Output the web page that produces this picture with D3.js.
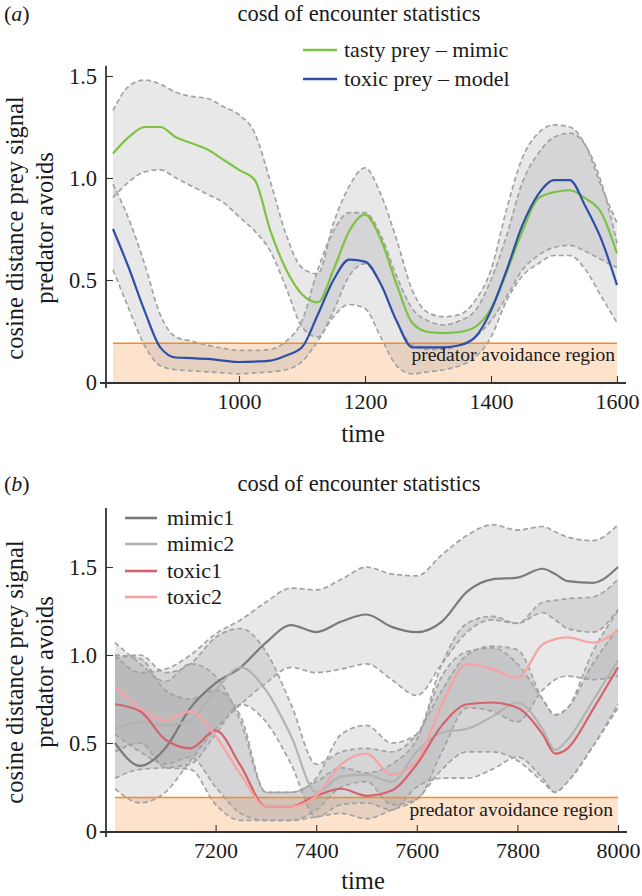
<!DOCTYPE html>
<html><head><meta charset="utf-8">
<script src="https://cdn.jsdelivr.net/npm/d3@7"></script>
<style>
html,body{margin:0;padding:0;background:#fff;}
svg text{font-family:"Liberation Serif","Times New Roman",serif;fill:#1a1a1a;}
</style></head>
<body><svg id="c" width="642" height="896"></svg>
<script>
// ---------- Panel (a) data ----------
const timeA = [800,825,850,875,900,925,950,975,1000,1025,1050,1075,1100,1125,1150,1175,1200,1225,1250,1275,1300,1325,1350,1375,1400,1425,1450,1475,1500,1525,1550,1575,1600];
const mimicA   = [1.12,1.20,1.25,1.25,1.20,1.17,1.14,1.09,1.04,0.99,0.74,0.55,0.43,0.39,0.55,0.74,0.82,0.70,0.48,0.29,0.245,0.24,0.245,0.27,0.36,0.54,0.74,0.90,0.93,0.94,0.90,0.83,0.63];
const mimicAHi = [1.33,1.45,1.48,1.46,1.42,1.40,1.39,1.35,1.31,1.22,0.98,0.72,0.56,0.53,0.78,0.96,1.05,0.92,0.70,0.45,0.34,0.32,0.33,0.40,0.55,0.85,1.10,1.22,1.26,1.25,1.16,0.96,0.78];
const mimicALo = [0.905,0.98,1.03,1.04,1.00,0.96,0.92,0.88,0.81,0.74,0.64,0.46,0.27,0.22,0.35,0.52,0.58,0.48,0.30,0.18,0.16,0.16,0.18,0.22,0.30,0.42,0.55,0.62,0.66,0.67,0.64,0.60,0.56];
const modelA   = [0.75,0.56,0.35,0.17,0.12,0.117,0.113,0.105,0.098,0.10,0.105,0.13,0.17,0.33,0.50,0.60,0.59,0.48,0.30,0.17,0.17,0.17,0.18,0.22,0.35,0.55,0.77,0.92,0.99,0.99,0.86,0.70,0.475];
const modelAHi = [0.97,0.80,0.58,0.33,0.22,0.20,0.18,0.165,0.155,0.155,0.16,0.20,0.30,0.55,0.74,0.83,0.83,0.72,0.52,0.36,0.30,0.28,0.30,0.35,0.50,0.72,0.98,1.12,1.20,1.22,1.16,0.98,0.68];
const modelALo = [0.55,0.36,0.18,0.08,0.06,0.055,0.05,0.045,0.04,0.045,0.05,0.06,0.10,0.20,0.32,0.38,0.36,0.22,0.08,0.04,0.05,0.06,0.08,0.12,0.22,0.40,0.52,0.58,0.62,0.62,0.55,0.42,0.29];
const legendA = ["tasty prey \u2013 mimic","toxic prey \u2013 model"];
const ticksAX = [1000,1200,1400,1600];

// ---------- Panel (b) data ----------
const timeB = [7000,7050,7100,7150,7200,7250,7300,7350,7400,7450,7500,7550,7600,7650,7700,7750,7800,7850,7875,7900,7950,8000];
const mimic1   = [0.50,0.37,0.47,0.70,0.84,0.93,1.07,1.17,1.13,1.19,1.23,1.16,1.13,1.19,1.36,1.43,1.44,1.49,1.46,1.42,1.41,1.50];
const mimic1Hi = [1.00,0.90,0.92,1.00,1.12,1.20,1.30,1.38,1.37,1.43,1.50,1.46,1.45,1.57,1.68,1.74,1.71,1.73,1.70,1.67,1.65,1.74];
const mimic1Lo = [0.24,0.16,0.22,0.40,0.58,0.72,0.84,0.93,0.90,0.92,0.95,0.86,0.77,0.95,1.13,1.20,1.18,1.24,1.20,1.15,1.13,1.26];
const mimic2   = [0.58,0.62,0.60,0.63,0.80,0.93,0.80,0.54,0.22,0.31,0.32,0.28,0.45,0.56,0.58,0.65,0.73,0.58,0.46,0.52,0.74,0.97];
const mimic2Hi = [0.98,1.00,0.90,0.95,1.10,1.15,1.02,0.72,0.38,0.45,0.47,0.45,0.55,0.80,1.00,1.05,1.03,0.75,0.66,0.70,1.02,1.25];
const mimic2Lo = [0.30,0.35,0.36,0.38,0.55,0.72,0.62,0.38,0.08,0.15,0.16,0.12,0.25,0.30,0.30,0.35,0.42,0.30,0.22,0.28,0.48,0.70];
const toxic1   = [0.72,0.68,0.52,0.47,0.57,0.37,0.14,0.14,0.20,0.24,0.20,0.23,0.38,0.60,0.72,0.73,0.70,0.55,0.44,0.47,0.69,0.93];
const toxic1Hi = [1.00,0.98,0.80,0.75,0.80,0.65,0.22,0.22,0.28,0.36,0.33,0.38,0.52,0.88,1.02,1.04,0.95,0.75,0.66,0.70,0.95,1.15];
const toxic1Lo = [0.45,0.50,0.36,0.35,0.15,0.06,0.06,0.06,0.08,0.10,0.07,0.12,0.18,0.35,0.45,0.45,0.40,0.28,0.22,0.28,0.48,0.72];
const toxic2   = [0.82,0.70,0.63,0.68,0.54,0.32,0.14,0.14,0.20,0.38,0.44,0.32,0.40,0.72,0.95,0.92,0.87,1.06,1.09,1.10,1.07,1.14];
const toxic2Hi = [1.07,0.95,0.85,0.95,0.88,0.62,0.22,0.22,0.30,0.55,0.60,0.50,0.55,0.95,1.18,1.22,1.18,1.30,1.31,1.32,1.33,1.43];
const toxic2Lo = [0.55,0.45,0.38,0.42,0.25,0.10,0.06,0.06,0.12,0.25,0.28,0.15,0.18,0.45,0.70,0.68,0.62,0.80,0.86,0.88,0.86,0.88];
const legendB = ["mimic1","mimic2","toxic1","toxic2"];
const ticksBX = [7200,7400,7600,7800,8000];

const ticksY = [0,0.5,1.0,1.5];
const tickLabelsY = ["0","0.5","1.0","1.5"];
const avoidLevel = 0.19;

const title = "cosd of encounter statistics";
const yLab1 = "cosine distance prey signal", yLab2 = "predator avoids";

const svg = d3.select("#c");

function panel(o){
  const g = svg.append("g");
  const x = d3.scaleLinear().domain(o.xDom).range(o.xRange);
  const y = d3.scaleLinear().domain(o.yDom).range(o.yRange);
  const t = o.time;
  // avoidance region
  g.append("rect").attr("x", x(o.xDom[0])).attr("width", x(o.xDom[1]) - x(o.xDom[0]))
    .attr("y", y(avoidLevel)).attr("height", y(0) - y(avoidLevel))
    .attr("fill", "#fde3cc");
  // bands
  const area = d3.area().x((d,i)=>x(t[i])).y0(d=>y(d[0])).y1(d=>y(d[1])).curve(d3.curveMonotoneX);
  const line = d3.line().x((d,i)=>x(t[i])).y(d=>y(d)).curve(d3.curveMonotoneX);
  o.series.forEach(s=>{
    g.append("path").datum(s.lo.map((v,i)=>[v, s.hi[i]])).attr("d", area)
      .attr("fill", "#8c8e90").attr("fill-opacity", 0.2);
  });
  o.series.forEach(s=>{
    [s.lo, s.hi].forEach(arr=>{
      g.append("path").datum(arr).attr("d", line).attr("fill","none")
        .attr("stroke","#a3a3a3").attr("stroke-width",1.7).attr("stroke-dasharray","5,3");
    });
  });
  // avoidance line
  g.append("line").attr("x1", x(o.xDom[0])).attr("x2", x(o.xDom[1]))
    .attr("y1", y(avoidLevel)).attr("y2", y(avoidLevel))
    .attr("stroke", "#f58a2a").attr("stroke-width", 1.6);
  // means
  o.series.forEach(s=>{
    g.append("path").datum(s.mean).attr("d", line).attr("fill","none")
      .attr("stroke", s.color).attr("stroke-width", 2.2).attr("stroke-linejoin","round");
  });
  g.append("text").attr("x", o.regionX).attr("y", o.regionY).attr("text-anchor","end")
    .attr("font-size", 19.5).text("predator avoidance region");

  // axes
  const axCol = "#333";
  const minorX = d3.range(o.xDom[0], o.xDom[1] + 1, 50);
  const minorY = d3.range(0, o.yDom[1] + 0.0001, 0.1).map(v=>+v.toFixed(2));
  const gx = g.append("g").attr("transform", `translate(0,${y(0)+1})`);
  gx.call(d3.axisBottom(x).tickValues(minorX).tickSize(-3.5).tickFormat(""));
  gx.call(d3.axisBottom(x).tickValues(o.ticksX).tickSize(-7).tickPadding(10).tickFormat(d3.format("d")));
  gx.selectAll(".domain").remove();
  gx.selectAll("line").attr("stroke", axCol).attr("stroke-width", 1.1);
  gx.selectAll("text").attr("font-size", 22).attr("font-family", '"Liberation Serif","Times New Roman",serif').attr("fill","#1a1a1a");
  g.append("line").attr("x1", o.axisX - 6).attr("x2", x(o.xDom[1]) + 9)
    .attr("y1", y(0)+1).attr("y2", y(0)+1).attr("stroke", axCol).attr("stroke-width", 1.8);

  const gy = g.append("g").attr("transform", `translate(${o.axisX},0)`);
  gy.call(d3.axisLeft(y).tickValues(minorY).tickSize(-3.5).tickFormat(""));
  gy.call(d3.axisLeft(y).tickValues(ticksY).tickSize(-7).tickPadding(9).tickFormat((d,i)=>tickLabelsY[i]));
  gy.selectAll(".domain").remove();
  gy.selectAll("line").attr("stroke", axCol).attr("stroke-width", 1.1);
  gy.selectAll("text").attr("font-size", 22.5).attr("font-family", '"Liberation Serif","Times New Roman",serif').attr("fill","#1a1a1a");
  g.append("line").attr("x1", o.axisX).attr("x2", o.axisX)
    .attr("y1", y(0)+6).attr("y2", y(o.yDom[1]))
    .attr("stroke", axCol).attr("stroke-width", 1.8);

  // labels
  g.append("text").attr("x", 4).attr("y", o.top + 21).attr("font-size", 22)
    .html(`(<tspan font-style="italic">${o.tag}</tspan>)`);
  g.append("text").attr("x", 359).attr("y", o.top + 21).attr("text-anchor","middle")
    .attr("font-size", 22.5).text(title);
  g.append("text").attr("transform", `translate(23,${o.yLabC}) rotate(-90)`).attr("text-anchor","middle")
    .attr("font-size", 24.5).text(yLab1);
  g.append("text").attr("transform", `translate(53,${o.yLabC}) rotate(-90)`).attr("text-anchor","middle")
    .attr("font-size", 24.5).text(yLab2);
  g.append("text").attr("x", 363).attr("y", o.timeY).attr("text-anchor","middle")
    .attr("font-size", 24.5).text("time");

  // legend
  o.legend.forEach((name,i)=>{
    const ly = o.legY[i];
    g.append("line").attr("x1", o.legX[0]).attr("x2", o.legX[1]).attr("y1", ly).attr("y2", ly)
      .attr("stroke", o.series[i].color).attr("stroke-width", 2.6);
    g.append("text").attr("x", o.legX[2]).attr("y", ly + 7).attr("font-size", 22).text(name);
  });
}

panel({
  tag:"a", top:0, time: timeA,
  xDom:[800,1600], xRange:[113,617], yDom:[0,1.55], yRange:[382, 382-204*1.55],
  axisX:106, ticksX: ticksAX, regionX:615, regionY:361, yLabC:228, timeY:442,
  legend: legendA, legY:[50,79], legX:[303,337,344],
  series:[
    {mean:mimicA, hi:mimicAHi, lo:mimicALo, color:"#7cc243"},
    {mean:modelA, hi:modelAHi, lo:modelALo, color:"#2f4fa6"}
  ]
});

panel({
  tag:"b", top:470, time: timeB,
  xDom:[7000,8000], xRange:[115,618], yDom:[0,1.835], yRange:[831, 831-176*1.835],
  axisX:106, ticksX: ticksBX, regionX:613, regionY:816, yLabC:672, timeY:889,
  legend: legendB, legY:[518,544,571,597], legX:[125,157,167],
  series:[
    {mean:mimic1, hi:mimic1Hi, lo:mimic1Lo, color:"#7b7b7b"},
    {mean:mimic2, hi:mimic2Hi, lo:mimic2Lo, color:"#b3b3b3"},
    {mean:toxic1, hi:toxic1Hi, lo:toxic1Lo, color:"#d4636b"},
    {mean:toxic2, hi:toxic2Hi, lo:toxic2Lo, color:"#f7a3a3"}
  ]
});
</script></body></html>
